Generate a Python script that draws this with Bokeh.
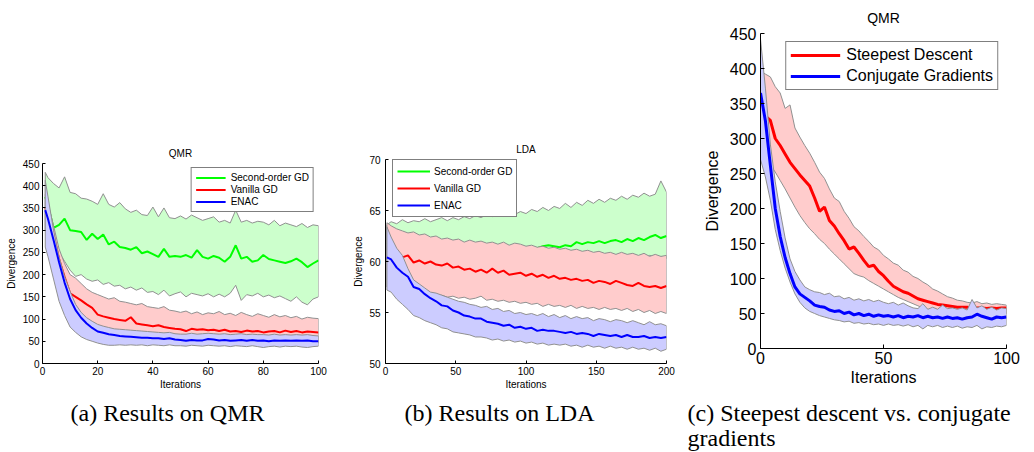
from bokeh.plotting import figure
from bokeh.models import Legend, LegendItem, Label, FixedTicker
from bokeh.layouts import row, column
from bokeh.embed import file_html
from bokeh.resources import INLINE

# ------------------------------------------------------------------ data
# (a) QMR
iters_a = [1] + list(range(2, 101, 2))
enac_mean_a = [345, 325, 278, 228, 182, 145, 120, 103, 90, 80,
               72, 69, 66, 64, 62, 61, 60, 59, 58, 58,
               57, 57, 55, 57, 54, 53, 51, 53, 52, 52,
               55, 54, 52, 53, 51, 52, 53, 51, 53, 51,
               52, 50, 52, 51, 52, 51, 52, 51, 52, 50,
               50]
enac_up_a = [412, 375, 300, 240, 196, 162, 133, 115, 103, 95,
             88, 84, 81, 78, 77, 76, 75, 74, 73, 72,
             71, 70, 69, 70, 67, 66, 66, 68, 66, 67,
             68, 67, 66, 67, 65, 66, 67, 65, 66, 65,
             65, 64, 66, 64, 65, 64, 65, 64, 65, 63,
             62]
enac_lo_a = [262, 240, 190, 140, 108, 82, 70, 60, 54, 50,
             46, 43, 41, 41, 42, 41, 42, 41, 42, 40,
             42, 41, 40, 42, 40, 40, 39, 41, 40, 39,
             41, 40, 39, 40, 38, 40, 39, 38, 40, 38,
             36, 38, 39, 37, 39, 38, 39, 37, 36, 38,
             39]
van_mean_a = [350, 335, 290, 235, 195, 158, 150, 142, 133, 125,
              110, 106, 103, 100, 98, 96, 104, 90, 88, 86,
              84, 86, 82, 80, 78, 77, 73, 78, 76, 77,
              75, 76, 73, 76, 72, 73, 71, 74, 72, 73,
              70, 72, 73, 70, 74, 71, 73, 70, 72, 71,
              70]
van_up_a = [380, 360, 310, 258, 225, 200, 192, 180, 168, 160,
            155, 150, 145, 148, 140, 138, 135, 132, 135, 128,
            126, 124, 128, 120, 118, 115, 118, 112, 116, 110,
            114, 112, 117, 110, 113, 108, 115, 110, 106, 112,
            108, 104, 110, 105, 108, 103, 106, 100, 104, 102,
            101]
van_lo_a = [300, 285, 240, 190, 150, 120, 105, 95, 86, 79,
            74, 70, 68, 65, 63, 62, 60, 59, 58, 57,
            56, 55, 56, 54, 53, 53, 52, 54, 52, 51,
            53, 50, 52, 49, 51, 50, 52, 48, 50, 47,
            49, 44, 48, 46, 49, 45, 48, 44, 47, 45,
            46]
so_mean_a = [375, 355, 305, 312, 326, 300, 298, 296, 278, 292,
             280, 290, 268, 274, 262, 260, 256, 262, 248, 252,
             246, 240, 258, 240, 242, 240, 244, 238, 255, 240,
             236, 242, 238, 229, 240, 266, 236, 240, 229, 232,
             244, 235, 232, 229, 226, 230, 236, 228, 217, 225,
             232]
so_up_a = [430, 418, 405, 395, 420, 385, 382, 372, 370, 365,
           358, 382, 358, 352, 362, 348, 340, 345, 335, 333,
           352, 330, 350, 328, 326, 332, 325, 334, 328, 322,
           326, 330, 318, 322, 316, 345, 318, 322, 316, 320,
           318, 312, 322, 310, 316, 312, 308, 315, 306, 312,
           310]
so_lo_a = [300, 290, 270, 250, 230, 210, 196, 200, 190, 185,
           188, 178, 182, 174, 176, 168, 172, 165, 170, 160,
           162, 155, 165, 152, 157, 161, 150, 158, 155, 152,
           157, 150, 156, 150, 158, 176, 142, 155, 152, 158,
           150, 154, 148, 152, 146, 140, 150, 138, 132, 145,
           150]

# (b) LDA
iters_b = [1] + list(range(4, 201, 4))
enac_mean_b = [60.4, 60.2, 59.4, 58.9, 58.5, 57.5, 57.3, 56.8, 56.4, 56.1,
               55.7, 55.6, 55.2, 55.0, 54.7, 54.6, 54.4, 54.4, 54.1, 54.0,
               53.9, 53.7, 53.8, 53.5, 53.6, 53.4, 53.5, 53.2, 53.3, 53.2,
               53.2, 53.1, 53.0, 53.1, 52.9, 53.0, 52.9, 52.7, 52.9, 52.8,
               52.7, 52.8, 52.6, 52.8, 52.6, 52.6, 52.7, 52.5, 52.6, 52.5,
               52.6]
enac_up_b = [63.4, 62.4, 61.3, 60.6, 59.3, 58.2, 57.8, 57.4, 57.0, 56.9,
             56.7, 56.5, 56.3, 56.1, 56.0, 55.8, 55.7, 55.5, 55.6, 55.3,
             55.4, 55.1, 55.2, 54.9, 55.0, 54.8, 54.9, 54.7, 54.9, 54.6,
             54.8, 54.5, 54.7, 54.4, 54.6, 54.4, 54.5, 54.2, 54.4, 54.3,
             54.1, 54.3, 54.2, 54.0, 54.2, 54.0, 53.8, 54.1, 53.8, 53.9,
             53.7]
enac_lo_b = [57.2, 57.0, 56.3, 55.8, 55.3, 54.7, 54.5, 54.2, 54.0, 53.8,
             53.5, 53.4, 53.1, 53.0, 52.9, 52.8, 52.6, 52.6, 52.5, 52.3,
             52.4, 52.2, 52.3, 52.1, 52.2, 52.0, 52.1, 51.9, 52.0, 51.8,
             51.9, 51.8, 51.9, 51.7, 51.8, 51.6, 51.8, 51.6, 51.7, 51.5,
             51.7, 51.5, 51.6, 51.4, 51.6, 51.4, 51.5, 51.3, 51.5, 51.2,
             51.4]
van_mean_b = [60.4, 60.4, 60.5, 60.4, 60.6, 59.9, 60.1, 59.8, 60.0, 59.7,
              59.6, 59.8, 59.4, 59.5, 59.2, 59.3, 59.0, 59.2, 58.9, 59.3,
              58.9, 59.1, 58.7, 58.8, 58.9, 58.6, 58.8, 58.5, 58.7, 58.4,
              58.6, 58.3, 58.4, 58.2, 58.3, 58.1, 58.2, 57.9, 58.1, 58.0,
              57.8, 58.1, 57.9, 57.7, 57.6, 57.9, 57.6, 57.5, 57.6, 57.4,
              57.6]
van_up_b = [63.8, 63.5, 63.2, 63.0, 62.8, 62.9, 62.6, 62.7, 62.4, 62.5,
            62.2, 62.3, 62.1, 62.2, 61.9, 62.1, 61.9, 62.0, 61.8, 61.9,
            61.7, 61.9, 61.6, 61.8, 61.7, 61.5, 61.6, 61.4, 61.5, 61.3,
            61.4, 61.2, 61.3, 61.1, 61.2, 61.0, 61.1, 60.9, 61.0, 60.8,
            60.9, 60.7, 60.9, 60.7, 60.8, 60.6, 60.8, 60.5, 60.7, 60.5,
            60.6]
van_lo_b = [57.5, 57.4, 57.2, 57.1, 57.0, 56.9, 56.8, 56.9, 56.7, 56.6,
            56.7, 56.5, 56.6, 56.4, 56.5, 56.3, 56.4, 56.6, 56.2, 56.3,
            56.1, 56.2, 56.0, 56.1, 55.9, 56.0, 55.8, 55.9, 55.6, 55.8,
            55.6, 55.7, 55.5, 55.7, 55.4, 55.6, 55.4, 55.5, 55.3, 55.5,
            55.3, 55.4, 55.2, 55.4, 55.1, 55.3, 55.0, 55.2, 54.9, 55.1,
            54.9]
so_mean_b = [61.8, 61.7, 61.6, 61.5, 61.5, 61.4, 61.5, 61.3, 61.4, 61.3,
             61.4, 61.2, 61.3, 61.2, 61.3, 61.1, 61.2, 61.1, 61.2, 61.0,
             61.1, 61.0, 61.2, 61.1, 61.3, 61.2, 61.3, 61.3, 61.5, 61.6,
             61.5, 61.4, 61.6, 61.5, 61.9, 61.7, 61.9, 61.8, 62.0, 61.8,
             62.0, 62.1, 61.9, 62.2, 62.0, 62.3, 62.1, 62.4, 62.6, 62.3,
             62.5]
so_up_b = [63.6, 63.9, 63.7, 64.1, 63.8, 64.0, 63.9, 64.2, 63.9, 64.1,
           64.3, 64.0, 64.3, 64.1, 64.4, 64.2, 64.5, 64.3, 64.6, 64.4,
           64.6, 64.5, 64.8, 64.6, 64.9, 64.7, 65.1, 64.9, 65.3, 65.0,
           65.4, 65.2, 65.7, 65.3, 65.8, 65.5, 66.0, 65.7, 66.1, 65.8,
           66.2, 66.0, 66.4, 66.1, 66.5, 66.3, 66.7, 66.4, 66.6, 67.9,
           66.8]
so_lo_b = [60.0, 59.8, 59.7, 59.9, 59.6, 59.8, 59.5, 59.7, 59.6, 59.8,
           59.5, 59.7, 59.6, 59.8, 59.7, 59.9, 59.7, 59.8, 59.9, 59.7,
           60.0, 59.8, 60.0, 59.9, 60.1, 60.0, 60.2, 60.0, 60.1, 60.2,
           60.0, 60.3, 60.1, 60.2, 60.4, 60.2, 60.3, 60.1, 60.4, 60.2,
           60.3, 60.5, 60.2, 60.4, 60.3, 60.5, 60.3, 60.6, 60.4, 60.5,
           60.3]

# (c) steepest descent vs conjugate gradients on QMR
iters_c = [0] + list(range(2, 101, 2))
cg_mean_c = [365, 325, 262, 200, 160, 130, 107, 88, 78, 73,
             68, 62, 60, 59, 55, 53, 54, 50, 52, 48,
             50, 47, 49, 46, 48, 46, 47, 45, 47, 44,
             46, 45, 47, 44, 46, 44, 45, 43, 45, 43,
             44, 42, 44, 45, 49, 46, 44, 42, 45, 44,
             45]
cg_up_c = [442, 372, 292, 238, 196, 158, 128, 110, 98, 88,
           84, 81, 80, 77, 79, 74, 75, 71, 73, 69,
           71, 68, 70, 67, 69, 66, 64, 66, 62, 65,
           61, 58, 57, 64, 56, 59, 56, 62, 57, 58,
           56, 58, 55, 70, 58, 61, 56, 59, 55, 58,
           57]
cg_lo_c = [270, 245, 212, 170, 140, 115, 95, 78, 66, 58,
           53, 50, 47, 45, 43, 41, 40, 38, 39, 36,
           37, 35, 36, 34, 35, 33, 35, 33, 34, 32,
           34, 31, 33, 28, 33, 31, 33, 30, 32, 30,
           32, 29, 31, 30, 33, 28, 31, 30, 32, 31,
           33]
sd_mean_c = [337, 332, 326, 300, 290, 278, 266, 257, 248, 240,
             232, 215, 196, 202, 183, 175, 164, 154, 142, 145,
             136, 126, 117, 119, 110, 104, 96, 89, 85, 81,
             79, 75, 71, 69, 67, 65, 63, 62, 61, 60,
             59, 59, 59, 58, 58, 58, 57, 58, 57, 58,
             58]
sd_up_c = [396, 392, 388, 374, 365, 343, 348, 315, 302, 290,
           279, 266, 252, 243, 228, 215, 210, 196, 186, 174,
           168, 160, 153, 145, 141, 133, 128, 122, 119, 112,
           109, 103, 100, 95, 91, 85, 82, 78, 74, 72,
           69, 68, 66, 65, 67, 64, 65, 63, 64, 63,
           62]
sd_lo_c = [270, 268, 262, 252, 240, 228, 215, 202, 190, 180,
           171, 164, 156, 150, 142, 135, 128, 121, 114, 107,
           104, 102, 97, 93, 89, 85, 81, 77, 73, 70,
           67, 64, 61, 58, 56, 54, 53, 52, 52, 51,
           51, 50, 50, 49, 50, 49, 50, 49, 50, 49,
           50]

ticks_a_x = [0, 20, 40, 60, 80, 100]
ticks_a_y = [0, 50, 100, 150, 200, 250, 300, 350, 400, 450]
ticks_b_x = [0, 50, 100, 150, 200]
ticks_b_y = [50, 55, 60, 65, 70]
ticks_c_x = [0, 50, 100]
ticks_c_y = [0, 50, 100, 150, 200, 250, 300, 350, 400, 450]

# ------------------------------------------------------------------ style
FONT = "Liberation Sans"
SERIF = "Liberation Serif"
GREEN, RED, BLUE = "#00ff00", "#ff0000", "#0000ff"
FILL_G, FILL_R, FILL_B = "#ccffcc", "#ffcccc", "#ccccff"
EDGE = "#909090"
TOP, BOTTOM = 33, 45   # same outer borders for all panels (rows align them)


def panel(width, height, xr, yr, left, right, offset_top, title, title_fs, title_standoff):
    p = figure(width=width, height=height, x_range=xr, y_range=yr,
               toolbar_location=None, output_backend="svg", title=title,
               min_border_left=left, min_border_right=right,
               min_border_top=TOP, min_border_bottom=BOTTOM,
               margin=(offset_top, 0, 0, 0))
    p.title.align = "center"
    p.title.text_font = FONT
    p.title.text_font_size = title_fs
    p.title.text_font_style = "normal"
    p.title.text_color = "black"
    p.title.standoff = title_standoff
    p.grid.visible = False
    p.outline_line_color = None
    p.background_fill_color = "white"
    p.border_fill_color = "white"
    return p


def axes(p, xticks, yticks, fs, tick_len, xls, yls, xlab_st, ylab_st):
    p.xaxis.ticker = FixedTicker(ticks=xticks)
    p.yaxis.ticker = FixedTicker(ticks=yticks)
    p.xaxis.axis_label = "Iterations"
    p.yaxis.axis_label = "Divergence"
    for ax in (p.xaxis, p.yaxis):
        ax.axis_line_color = "black"
        ax.axis_line_width = 1
        ax.major_tick_in = tick_len
        ax.major_tick_out = 0
        ax.major_tick_line_color = "black"
        ax.minor_tick_in = 0
        ax.minor_tick_out = 0
        ax.major_label_text_font = FONT
        ax.major_label_text_font_size = fs
        ax.major_label_text_color = "black"
        ax.axis_label_text_font = FONT
        ax.axis_label_text_font_size = fs
        ax.axis_label_text_font_style = "normal"
        ax.axis_label_text_color = "black"
    p.xaxis.major_label_standoff = xls
    p.yaxis.major_label_standoff = yls
    p.xaxis.axis_label_standoff = xlab_st
    p.yaxis.axis_label_standoff = ylab_st


def band(p, x, up, lo, fill):
    xs = list(x) + list(x)[::-1]
    ys = list(up) + list(lo)[::-1]
    p.patch(xs, ys, fill_color=fill, fill_alpha=1.0, line_color=EDGE, line_width=1)


def legend(p, items, fs, glyph_w, label_h, spacing, padding, standoff, location, margin):
    lg = Legend(items=[LegendItem(label=t, renderers=[r]) for t, r in items],
                location=location, margin=margin)
    lg.border_line_color = "black"
    lg.border_line_width = 1
    lg.background_fill_color = "white"
    lg.background_fill_alpha = 1.0
    lg.label_text_font = FONT
    lg.label_text_font_size = fs
    lg.label_text_color = "black"
    lg.glyph_width = glyph_w
    lg.glyph_height = label_h
    lg.label_height = label_h
    lg.spacing = spacing
    lg.padding = padding
    lg.label_standoff = standoff
    p.add_layout(lg)


# ---- (a)  frame x 42..318, y 163..363
pa = panel(350, 278, (0, 100), (0, 450), 42, 32, 130, "QMR", "10px", 10)
axes(pa, ticks_a_x, ticks_a_y, "10px", 3, 3, 3, 1, 3)
band(pa, iters_a, so_up_a, so_lo_a, FILL_G)
ga = pa.line(iters_a, so_mean_a, line_color=GREEN, line_width=2)
band(pa, iters_a, van_up_a, van_lo_a, FILL_R)
ra = pa.line(iters_a, van_mean_a, line_color=RED, line_width=2)
band(pa, iters_a, enac_up_a, enac_lo_a, FILL_B)
ba = pa.line(iters_a, enac_mean_a, line_color=BLUE, line_width=2)
legend(pa, [("Second-order GD", ga), ("Vanilla GD", ra), ("ENAC", ba)],
       "10px", 30, 11, 1, 4, 5, "top_right", 4)

# ---- (b)  frame x 385..666, y 159..363
pb = panel(350, 282, (0, 200), (50, 70), 35, 34, 126, "LDA", "10px", 10)
axes(pb, ticks_b_x, ticks_b_y, "10px", 3, 3, 5, 1, 2)
band(pb, iters_b, so_up_b, so_lo_b, FILL_G)
gb = pb.line(iters_b, so_mean_b, line_color=GREEN, line_width=2)
band(pb, iters_b, van_up_b, van_lo_b, FILL_R)
rb = pb.line(iters_b, van_mean_b, line_color=RED, line_width=2)
band(pb, iters_b, enac_up_b, enac_lo_b, FILL_B)
bb = pb.line(iters_b, enac_mean_b, line_color=BLUE, line_width=2)
legend(pb, [("Second-order GD", gb), ("Vanilla GD", rb), ("ENAC", bb)],
       "10px", 33, 14, 3, 4, 4, (7, 146), 0)

# ---- (c)  frame x 756..1006, y 33..348
pc = panel(334, 393, (0, 100), (0, 450), 56, 28, 0, "QMR", "14px", 15)
axes(pc, ticks_c_x, ticks_c_y, "16px", 4, 3, 4, 2, 6)
band(pc, iters_c, sd_up_c, sd_lo_c, FILL_R)
rc = pc.line(iters_c, sd_mean_c, line_color=RED, line_width=3)
band(pc, iters_c, cg_up_c, cg_lo_c, FILL_B)
bc = pc.line(iters_c, cg_mean_c, line_color=BLUE, line_width=3)
legend(pc, [("Steepest Descent", rc), ("Conjugate Gradients", bc)],
       "16px", 50, 16, 3, 4, 6, "top_right", 8)

# ---- captions (strip y 400..452)
cap = figure(width=1034, height=52, x_range=(0, 1), y_range=(0, 1),
             toolbar_location=None, output_backend="svg",
             x_axis_location=None, y_axis_location=None,
             min_border=0, min_border_left=0, min_border_right=0,
             min_border_top=0, min_border_bottom=0,
             margin=(-8, 0, 0, 0))
cap.grid.visible = False
cap.outline_line_color = None
captions = [("(a) Results on QMR", 70, 40),
            ("(b) Results on LDA", 404, 40),
            ("(c) Steepest descent vs.  conjugate", 687, 40),
            ("gradients", 687, 15)]
for text, sx, sy in captions:
    cap.add_layout(Label(x=sx, y=sy, x_units="screen", y_units="screen", text=text,
                         text_font=SERIF, text_font_size="24px", text_color="black",
                         text_baseline="alphabetic"))

layout = column(row(pa, pb, pc), cap)
open("out.html", "w").write(file_html(layout, INLINE))
